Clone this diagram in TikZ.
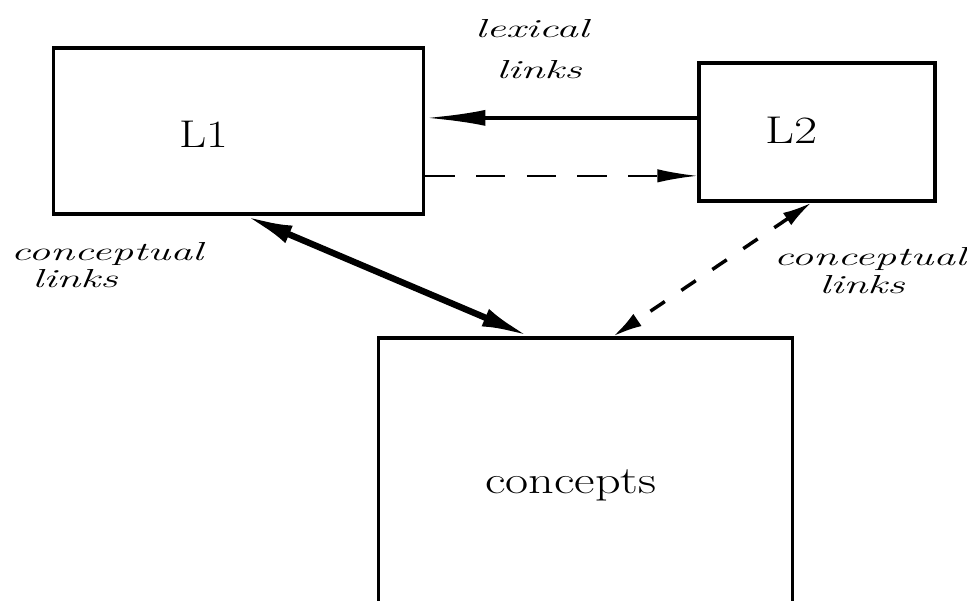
\documentclass[tikz,border=0pt]{standalone}
\usetikzlibrary{arrows.meta,calc}
\begin{document}
\begin{tikzpicture}[x=0.75pt,y=-0.75pt,
  box/.style={draw=black,line width=2.4pt,inner sep=0pt},
  bigtext/.style={anchor=base,inner sep=0pt,font=\fontsize{29}{34}\selectfont},
  linklabel/.style={anchor=base,inner sep=0pt,xscale=1.68,font=\fontsize{19.5}{23}\selectfont\itshape},
  lexsolid/.style={line width=2.8pt,-{Latex[length=45pt,width=12pt]}},
  lexdash/.style={line width=1.6pt,dash pattern=on 22pt off 16pt,-{Latex[length=30pt,width=10pt]}},
  consolid/.style={line width=4.8pt,{Latex[length=36pt,width=14pt]}-{Latex[length=36pt,width=14pt]}},
  condash/.style={line width=2.6pt,dash pattern=on 13pt off 15pt,{Latex[length=22pt,width=11pt]}-{Latex[length=22pt,width=11pt]}}]
\clip (0,0) rectangle (967,600);
\fill[white] (0,0) rectangle (967,600);
% boxes
\node[box,minimum width=278pt,minimum height=124.5pt] (L1box) at (238.5,131) {};
\node[box,minimum width=177pt,minimum height=103.5pt] (L2box) at (817,132) {};
\node[box,minimum width=311pt,minimum height=226.5pt] (Cbox) at (585.5,489) {};
% box texts
\node[bigtext,xscale=1.22] (L1text) at (204,147) {L1};
\node[bigtext,xscale=1.3] (L2text) at (792,143) {L2};
\node[bigtext,xscale=1.3] (Ctext) at (571,493) {concepts};
% labels
\node[linklabel] (lexA1) at (532,37) {lexical};
\node[linklabel] (lexA2) at (539,78) {links};
\node[linklabel] (conL1) at (107,260) {conceptual};
\node[linklabel] (conL2) at (75,287) {links};
\node[linklabel] (conR1) at (870,265) {conceptual};
\node[linklabel] (conR2) at (862,293) {links};
% connectors
\coordinate (lexS) at ($(L2box.north west)!0.40!(L2box.south west)$);
\coordinate (lexD) at ($(L1box.north east)!0.765!(L1box.south east)$);
\draw[lexsolid] (lexS) -- (lexS -| L1box.east);
\draw[lexdash] (lexD) -- (lexD -| L2box.west);
\draw[consolid] ($(L1box.south west)!0.517!(L1box.south east)$) -- ($(Cbox.north west)!0.366!(Cbox.north east)$);
\draw[condash] ($(L2box.south west)!0.477!(L2box.south east)$) -- ($(Cbox.north west)!0.566!(Cbox.north east)$);
\end{tikzpicture}
\end{document}
